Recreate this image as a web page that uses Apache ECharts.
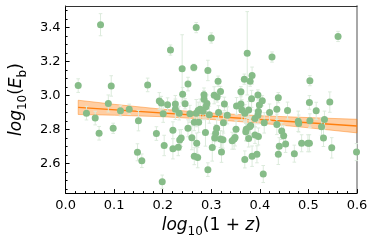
<!DOCTYPE html>
<html><head><meta charset="utf-8">
<script src="https://cdn.jsdelivr.net/npm/echarts@6/dist/echarts.min.js"></script>
<style>html,body{margin:0;padding:0;background:#fff}#c{width:374px;height:243px}</style>
</head><body><div id="c"></div>
<script>
const xVals = [0.072,0.026,0.094,0.169,0.193,0.269,0.216,0.300,0.374,0.240,0.264,0.293,0.252,0.314,0.368,0.380,0.384,0.241,0.285,0.306,0.312,0.319,0.361,0.396,0.285,0.383,0.561,0.425,0.503,0.438,0.405,0.088,0.502,0.544,0.352,
0.043,0.061,0.069,0.098,0.113,0.131,0.150,0.148,0.157,0.187,0.197,0.199,0.203,0.201,
0.210,0.226,0.246,0.291,0.289,0.327,0.361,0.399,0.226,0.234,0.256,0.269,0.273,0.277,0.283,0.296,0.315,0.333,0.363,0.369,0.390,0.265,0.274,0.221,0.252,0.288,0.311,0.325,0.351,0.372,0.381,0.390,0.235,0.238,0.260,0.270,0.307,0.319,0.324,0.347,0.349,0.221,0.232,0.302,0.321,0.265,0.272,0.293,0.369,0.384,0.394,
0.396,0.420,0.435,0.457,0.409,0.435,0.445,0.449,0.453,0.440,0.438,0.471,0.486,0.499,0.502,0.479,0.480,0.516,0.503,0.533,0.527,0.531,0.548,0.599,0.407,
0.377,0.397,0.397,0.379,0.371,0.377,0.309,0.343];
const yVals = [3.415,3.057,3.055,3.061,2.966,3.398,3.266,3.337,3.247,3.156,3.163,3.146,3.066,3.083,3.095,3.083,3.116,3.006,3.003,3.000,2.990,3.023,3.021,3.002,2.977,2.979,3.346,3.225,3.086,2.986,2.968,2.952,2.958,2.960,2.937,
2.895,2.866,2.777,2.806,2.909,2.918,2.851,2.665,2.615,2.775,2.954,2.491,2.705,2.891,
2.945,2.949,2.950,2.952,2.933,2.949,2.949,2.943,2.918,2.895,2.891,2.895,2.910,2.918,2.906,2.886,2.899,2.882,2.914,2.895,2.863,2.842,2.842,2.794,2.806,2.781,2.806,2.838,2.800,2.800,2.823,2.767,2.737,2.749,2.750,2.718,2.749,2.743,2.739,2.743,2.752,2.686,2.695,2.693,2.666,2.642,2.634,2.563,2.623,2.642,2.653,
2.882,2.899,2.918,2.910,2.838,2.829,2.790,2.762,2.714,2.701,2.653,2.657,2.718,2.718,2.718,2.847,2.834,2.909,2.851,2.857,2.815,2.749,2.691,2.666,2.537,
2.914,2.905,2.758,2.815,2.785,2.746,2.777,2.733];
const yErr = [0.065,0.04,0.06,0.04,0.05,0.03,0.03,0.03,0.245,0.2,0.02,0.06,0.04,0.03,0.03,0.03,0.05,0.04,0.04,0.05,0.03,0.03,0.03,0.03,0.05,0.05,0.03,0.03,0.03,0.03,0.03,0.05,0.04,0.06,0.05,
0.04,0.04,0.04,0.03,0.03,0.03,0.06,0.05,0.04,0.04,0.04,0.04,0.06,0.05,
0.04,0.05,0.03,0.05,0.06,0.04,0.05,0.05,0.06,0.04,0.05,0.08,0.05,0.06,0.05,0.05,0.04,0.05,0.06,0.05,0.05,0.05,0.06,0.05,0.05,0.08,0.06,0.06,0.05,0.07,0.05,0.05,0.06,0.05,0.07,0.06,0.05,0.05,0.05,0.06,0.05,0.06,0.05,0.08,0.06,0.05,0.06,0.04,0.05,0.06,0.05,
0.05,0.05,0.06,0.05,0.06,0.06,0.05,0.06,0.05,0.05,0.06,0.05,0.05,0.05,0.05,0.06,0.05,0.05,0.04,0.05,0.05,0.05,0.06,0.05,0.05,
0.05,0.05,0.05,0.05,0.05,0.05,0.05,0.05];
const fitX = [0.026, 0.6];
const fitY = [2.929, 2.819];
const bandX = [0.026, 0.1, 0.2, 0.3, 0.4, 0.5, 0.6];
const bandUpper = [2.971, 2.947, 2.918, 2.896, 2.880, 2.869, 2.859];
const bandLower = [2.887, 2.883, 2.874, 2.858, 2.836, 2.809, 2.779];
const yTicks = [2.6, 2.8, 3.0, 3.2, 3.4];
const yMinorTicks = [2.45,2.5,2.55,2.65,2.7,2.75,2.85,2.9,2.95,3.05,3.1,3.15,3.25,3.3,3.35,3.45,3.5];
const xTickStep = 0.1;

const FONT = 'DejaVu Sans';
const YMIN = 2.425, YMAX = 3.525;
const rich = {
  i: {fontStyle:'italic', fontSize:17, fontFamily:FONT, color:'#000', verticalAlign:'top', lineHeight:21},
  r: {fontSize:17, fontFamily:FONT, color:'#000', verticalAlign:'top', lineHeight:21},
  s: {fontSize:12, fontFamily:FONT, color:'#000', verticalAlign:'bottom', lineHeight:12}
};
const chart = echarts.init(document.getElementById('c'), null, {renderer:'canvas'});
chart.setOption({
  animation:false,
  backgroundColor:'#fff',
  grid:{left:50, right:17, top:6, bottom:44, show:false},
  xAxis:[{
    type:'value', min:0, max:0.6, interval:xTickStep, position:'bottom',
    axisLine:{show:true, onZero:false, lineStyle:{color:'#000', width:1}},
    axisTick:{show:true, inside:true, length:4, lineStyle:{color:'#000'}},
    minorTick:{show:true, splitNumber:5, length:2, lineStyle:{color:'#000'}},
    axisLabel:{fontSize:13, color:'#000', fontFamily:FONT, margin:6, formatter:v=>v.toFixed(1)},
    splitLine:{show:false},
    name:'{i|log}{s|10}{r|(1 + }{i|z}{r|)}', nameLocation:'middle', nameGap:17,
    nameTextStyle:{rich:rich}
  },{
    type:'value', min:0, max:0.6, position:'top',
    axisLine:{show:true, onZero:false, lineStyle:{color:'#333', width:1}},
    axisTick:{show:false}, axisLabel:{show:false}, splitLine:{show:false}
  }],
  yAxis:[{
    type:'value', min:YMIN, max:YMAX, position:'left',
    axisLine:{show:true, onZero:false, lineStyle:{color:'#000', width:1}},
    axisTick:{show:true, inside:true, length:4, customValues:yTicks, lineStyle:{color:'#000'}},
    axisLabel:{customValues:yTicks, fontSize:13, color:'#000', fontFamily:FONT, margin:5, formatter:v=>v.toFixed(1)},
    splitLine:{show:false},
    name:'{i|log}{s|10}{r|(}{i|E}{s|b}{r|)}', nameLocation:'middle', nameGap:26,
    nameTextStyle:{rich:rich}
  },{
    type:'value', min:YMIN, max:YMAX, position:'left',
    axisLine:{show:false},
    axisTick:{show:true, inside:true, length:2, customValues:yMinorTicks, lineStyle:{color:'#000'}},
    axisLabel:{show:false}, splitLine:{show:false}
  },{
    type:'value', min:YMIN, max:YMAX, position:'right',
    axisLine:{show:true, onZero:false, lineStyle:{color:'#a8a8a8', width:2}},
    axisTick:{show:false}, axisLabel:{show:false}, splitLine:{show:false}
  }],
  series:[{
    type:'custom', z:1, xAxisIndex:0, yAxisIndex:0,
    data:[[bandX[0], bandUpper[0]]],
    encode:{x:0, y:1},
    renderItem:function(params, api){
      const pts = [];
      for (let k=0;k<bandX.length;k++) pts.push(api.coord([bandX[k], bandUpper[k]]));
      for (let k=bandX.length-1;k>=0;k--) pts.push(api.coord([bandX[k], bandLower[k]]));
      return {type:'polygon', shape:{points:pts}, style:{fill:'rgba(255,127,14,0.38)', stroke:'rgba(255,127,14,0.55)', lineWidth:0.8}};
    }
  },{
    type:'line', z:2, xAxisIndex:0, yAxisIndex:0, symbol:'none',
    data: fitX.map((x,i)=>[x, fitY[i]]),
    lineStyle:{color:'#ff7f0e', width:1.5}
  },{
    type:'custom', z:3, xAxisIndex:0, yAxisIndex:0, clip:true,
    data: xVals.map((x,i)=>[x, yVals[i], yErr[i]]),
    encode:{x:0, y:1},
    renderItem:function(params, api){
      const x=api.value(0), y=api.value(1), e=api.value(2);
      const t=api.coord([x, y+e]), b=api.coord([x, y-e]);
      const st={stroke:'#dcebdc', lineWidth:1};
      return {type:'group', children:[
        {type:'line', shape:{x1:t[0], y1:t[1], x2:b[0], y2:b[1]}, style:st},
        {type:'line', shape:{x1:t[0]-1.8, y1:t[1], x2:t[0]+1.8, y2:t[1]}, style:st},
        {type:'line', shape:{x1:b[0]-1.8, y1:b[1], x2:b[0]+1.8, y2:b[1]}, style:st}
      ]};
    }
  },{
    type:'scatter', z:4, xAxisIndex:0, yAxisIndex:0, symbolSize:7,
    data: xVals.map((x,i)=>[x, yVals[i]]),
    itemStyle:{color:'#86bc88', opacity:1}
  }]
});
</script>
</body></html>
